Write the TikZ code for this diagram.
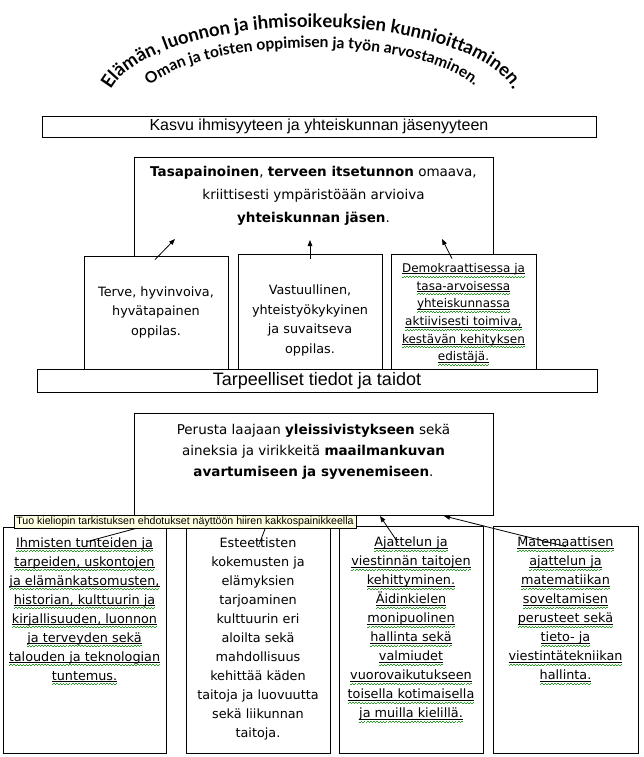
\documentclass[tikz,border=0pt]{standalone}
\usepackage{fontspec}
\setmainfont{DejaVu Sans}
\newfontfamily\arialfont{Liberation Sans}
\newfontfamily\headfam{Lato}
\usetikzlibrary{positioning,arrows.meta,decorations.text}
\definecolor{sqgreen}{RGB}{40,160,40}
\definecolor{tipyellow}{RGB}{255,255,225}
\newcommand\headfont{\headfam\bfseries\fontsize{18.5}{20}\selectfont}
\newcommand\headfontb{\headfam\bfseries\fontsize{15.6}{17}\selectfont}
% black underline with the green wave under it
\newsavebox\sqbox
\newcommand\sqmark{\rule[-0.4em]{0.12em}{0.06em}\rule[-0.33em]{0.12em}{0.06em}}
\newcommand\sqline[1]{\sbox\sqbox{#1}\smash{\rlap{\rule[-0.14em]{\wd\sqbox}{0.05em}}\rlap{\color{sqgreen}\hbox to \wd\sqbox{\xleaders\hbox{\sqmark}\hfil}}}\usebox\sqbox}
\begin{document}
\begin{tikzpicture}[
		x=1pt, y=-1pt,
		frame/.style={draw, fill=white, line width=0.8pt, inner sep=0pt},
		txt/.style={align=center, inner sep=0pt, font=\fontsize{12.8}{19.5}\selectfont},
		bigtxt/.style={align=center, inner sep=0pt, font=\fontsize{13.5}{23}\selectfont},
		arr/.style={-{Triangle[length=6pt,width=4.5pt]}, line width=0.8pt},
		head/.style={decorate, decoration={text along path, text align=center, text={#1}}}
	]
	\path[use as bounding box, fill=white] (0,0) rectangle (644,757);

	% otsikko kaarella
	\path[head={|\headfont|Elämän, luonnon ja ihmisoikeuksien kunnioittaminen.}]
		(110,91.5) arc[start angle=170, end angle=10, x radius=205pt, y radius=78pt];
	\path[head={|\headfontb|Oman ja toisten oppimisen ja työn arvostaminen.}]
		(146,90) arc[start angle=165, end angle=15, x radius=172pt, y radius=57pt];

	\node[frame, minimum width=554pt, minimum height=21pt, font=\arialfont\fontsize{16}{18}\selectfont] (kasvu) at (319,126.5) {Kasvu ihmisyyteen ja yhteiskunnan jäsenyyteen};

	% ylempi osa
	\node[frame, minimum width=359pt, minimum height=223pt] (jasen) at (313.5,268.5) {};
	\node[bigtxt, below=9.6pt of jasen.north] (jasenteksti) {\textbf{Tasapainoinen}, \textbf{terveen itsetunnon} omaava,\\ kriittisesti ympäristöään arvioiva\\ \textbf{yhteiskunnan jäsen}.};

	\node[frame, minimum width=144pt, minimum height=115pt] (terve) at (156,313.5) {};
	\node[txt, below=30.6pt of terve.north] (terveteksti) {Terve, hyvinvoiva,\\ hyvätapainen\\ oppilas.};
	\node[frame, minimum width=144pt, minimum height=117pt] (vastuu) at (310,312.5) {};
	\node[txt, below=31pt of vastuu.north] (vastuuteksti) {Vastuullinen,\\ yhteistyökykyinen\\ ja suvaitseva\\ oppilas.};
	\node[frame, minimum width=145pt, minimum height=117pt] (demo) at (463.5,312.5) {};
	\node[txt, font=\fontsize{12}{17.7}\selectfont, below=9.5pt of demo.north] (demoteksti) {\sqline{Demokraattisessa ja}\\ \sqline{tasa-arvoisessa}\\ \sqline{yhteiskunnassa}\\ \sqline{aktiivisesti toimiva,}\\ \sqline{kestävän kehityksen}\\ \sqline{edistäjä.}};

	\node[frame, minimum width=560pt, minimum height=23pt, font=\arialfont\fontsize{18}{20}\selectfont] (tarpeet) at (317,380.5) {Tarpeelliset tiedot ja taidot};

	\coordinate (k1) at (175,239);
	\coordinate (k2) at (310,240);
	\coordinate (k3) at (442,239);
	\draw[arr] ([shift={(-1pt,-4pt)}]terve.north) -- (k1);
	\draw[arr] ([shift={(0pt,-5pt)}]vastuu.north) -- (k2);
	\draw[arr] ([shift={(-11.5pt,-5pt)}]demo.north) -- (k3);

	% alempi osa
	\node[frame, minimum width=359pt, minimum height=102pt] (perusta) at (313.5,464) {};
	\node[bigtxt, font=\fontsize{13.5}{21}\selectfont, below=11.6pt of perusta.north] (perustateksti) {Perusta laajaan \textbf{yleissivistykseen} sekä\\ aineksia ja virikkeitä \textbf{maailmankuvan}\\ \textbf{avartumiseen ja syvenemiseen}.};

	\node[frame, minimum width=163pt, minimum height=226pt] (ihmiset) at (84.5,640) {};
	\node[txt, font=\fontsize{12.8}{19}\selectfont, below=10.5pt of ihmiset.north] (ihmisetteksti) {\sqline{Ihmisten tunteiden ja}\\ \sqline{tarpeiden, uskontojen}\\ \sqline{ja elämänkatsomusten,}\\ \sqline{historian, kulttuurin ja}\\ \sqline{kirjallisuuden, luonnon}\\ \sqline{ja terveyden sekä}\\ \sqline{talouden ja teknologian}\\ \sqline{tuntemus.}};
	\node[frame, minimum width=144pt, minimum height=226pt] (esteetti) at (258,640) {};
	\node[txt, font=\fontsize{12.8}{19}\selectfont, below=10.5pt of esteetti.north] (esteettiteksti) {Esteettisten\\ kokemusten ja\\ elämyksien\\ tarjoaminen\\ kulttuurin eri\\ aloilta sekä\\ mahdollisuus\\ kehittää käden\\ taitoja ja luovuutta\\ sekä liikunnan\\ taitoja.};
	\node[frame, minimum width=144pt, minimum height=227pt] (ajattelu) at (411,639.5) {};
	\node[txt, font=\fontsize{12.8}{19}\selectfont, below=11pt of ajattelu.north] (ajatteluteksti) {\sqline{Ajattelun ja}\\ \sqline{viestinnän taitojen}\\ \sqline{kehittyminen.}\\ \sqline{Äidinkielen}\\ \sqline{monipuolinen}\\ \sqline{hallinta sekä}\\ \sqline{valmiudet}\\ \sqline{vuorovaikutukseen}\\ \sqline{toisella kotimaisella}\\ \sqline{ja muilla kielillä.}};
	\node[frame, minimum width=145pt, minimum height=227pt] (matikka) at (565.5,639.5) {};
	\node[txt, font=\fontsize{12.8}{19}\selectfont, below=11pt of matikka.north] (matikkateksti) {\sqline{Matemaattisen}\\ \sqline{ajattelun ja}\\ \sqline{matematiikan}\\ \sqline{soveltamisen}\\ \sqline{perusteet sekä}\\ \sqline{tieto- ja}\\ \sqline{viestintätekniikan}\\ \sqline{hallinta.}};

	\coordinate (p1) at (182,516);
	\coordinate (p2) at (270,516);
	\coordinate (p3) at (380,516);
	\coordinate (p4) at (444,516);
	\draw[arr] ([shift={(2.5pt,-15pt)}]ihmiset.north) -- (p1);
	\draw[arr] ([shift={(1pt,-18pt)}]esteetti.north) -- (p2);
	\draw[arr] ([shift={(-13pt,-17pt)}]ajattelu.north) -- (p3);
	\draw[arr] ([shift={(0.5pt,-21pt)}]matikka.north) -- (p4);

	\node[draw, fill=tipyellow, line width=0.5pt, inner sep=0pt, minimum width=342pt, minimum height=13.5pt, font=\arialfont\fontsize{10.6}{12}\selectfont] (vihje) at (185,521.5) {Tuo kieliopin tarkistuksen ehdotukset näyttöön hiiren kakkospainikkeella};
\end{tikzpicture}
\end{document}
